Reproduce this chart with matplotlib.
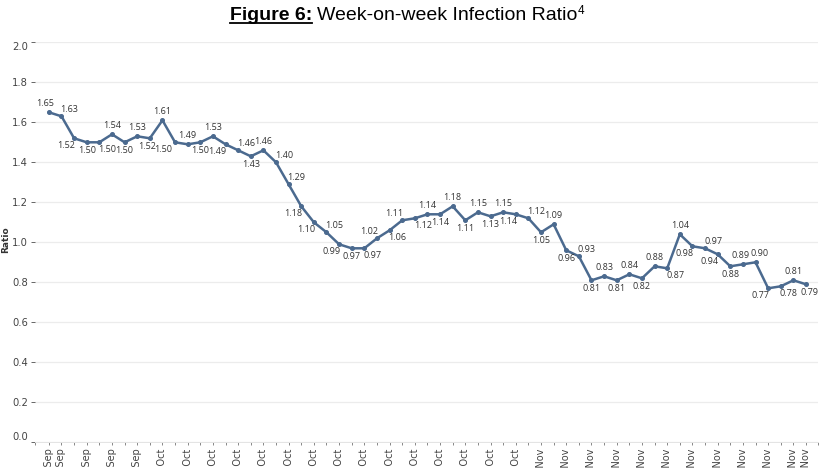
import pandas as pd
import matplotlib
matplotlib.use("Agg")
import matplotlib.pyplot as plt
from matplotlib.lines import Line2D

# week-on-week infection ratio, one value per day
START_DATE = "2020-09-23"
ratio = [1.65, 1.63, 1.52, 1.50, 1.50, 1.54, 1.50, 1.53, 1.52, 1.61,
         1.50, 1.49, 1.50, 1.53, 1.49, 1.46, 1.43, 1.46, 1.40, 1.29,
         1.18, 1.10, 1.05, 0.99, 0.97, 0.97, 1.02, 1.06, 1.11, 1.12,
         1.14, 1.14, 1.18, 1.11, 1.15, 1.13, 1.15, 1.14, 1.12, 1.05,
         1.09, 0.96, 0.93, 0.81, 0.83, 0.81, 0.84, 0.82, 0.88, 0.87,
         1.04, 0.98, 0.97, 0.94, 0.88, 0.89, 0.90, 0.77, 0.78, 0.81,
         0.79]
y_ticks = [0.0, 0.2, 0.4, 0.6, 0.8, 1.0, 1.2, 1.4, 1.6, 1.8, 2.0]

# where each data label sits relative to its point
label_pos = ["a", "ar", "bl", "b", "br", "a", "b", "a", "b", "a",
             "bl", "a", "b", "a", "bl", "ar", "b", "a", "ar", "ar",
             "bl", "bl", "ar", "bl", "b", "br", "al", "br", "al", "br",
             "a", "b", "a", "b", "a", "b", "a", "bl", "ar", "b",
             "a", "b", "ar", "b", "a", "b", "a", "b", "a", "br",
             "a", "bl", "ar", "bl", "b", "a", "a", "bl", "br", "a",
             "b"]
OFFSETS = {"a": (0, 9), "b": (0, -8), "ar": (8, 7), "al": (-8, 7),
           "br": (8, -7), "bl": (-8, -7)}
# small extra nudges so neighbouring labels don't collide
NUDGE = {0: -4, 8: -3, 10: -4, 55: -2, 56: 4, 60: 3}

LINE_COLOR = "#4b6a8f"

dates = pd.date_range(START_DATE, periods=len(ratio), freq="D")
x = list(range(len(ratio)))
labelled = [0] + list(range(1, len(ratio), 2)) + [len(ratio) - 1]

fig = plt.figure(figsize=(8.3, 4.68), dpi=100)
W, H = 830, 468
ax = fig.add_axes([35 / W, 1 - 442.3 / H, 783 / W, 400 / H])

ax.plot(x, ratio, color=LINE_COLOR, lw=1.8, marker="o", markersize=2.6,
        solid_joinstyle="round", zorder=3)

for i, (v, p) in enumerate(zip(ratio, label_pos)):
    dx, dy = OFFSETS[p]
    dx += NUDGE.get(i, 0)
    ax.annotate(f"{v:.2f}", (i, v), xytext=(dx, dy), textcoords="offset pixels",
                ha="center", va="center", fontsize=6.5, family="Open Sans",
                color="#333333", zorder=4)

ax.set_xlim(-1.1, 60.95)
ax.set_ylim(0, 2.0)
ax.set_yticks(y_ticks)
ax.set_yticklabels([f"{t:.1f}" for t in y_ticks])
ax.grid(axis="y", color="#ececec", lw=0.9)
ax.set_axisbelow(True)

ax.set_xticks(x)
ax.set_xticklabels([d.strftime("%d %b") if i in labelled else ""
                    for i, d in enumerate(dates)], rotation=90)
ax.set_xticks([-1.1, 60.95], minor=True)
ax.tick_params(axis="x", which="both", length=2.5, width=0.7, color="#888888",
               pad=2, labelsize=7, labelcolor="#444444")
ax.tick_params(axis="y", length=3, width=0.7, color="#666666", pad=2,
               labelsize=7.2, labelcolor="#444444")

ylabels = ax.get_yticklabels()
ylabels[0].set_va("bottom")
ylabels[-1].set_va("top")

for s in ["top", "right", "left"]:
    ax.spines[s].set_visible(False)
ax.spines["bottom"].set_color("#e4e4e4")
ax.spines["bottom"].set_linewidth(0.7)

fig.text(6 / W, 1 - 240 / H, "Ratio", rotation=90, ha="center", va="center",
         fontsize=6.5, fontweight="bold", color="#333333")

# title: bold underlined prefix, normal text, superscript
renderer = fig.canvas.get_renderer()
base_y = 1 - 20 / H
t1 = fig.text(0, base_y, "Figure 6:", family="Liberation Sans", fontweight="bold",
              fontsize=14, va="baseline")
t2 = fig.text(0, base_y, "Week-on-week Infection Ratio", family="Liberation Sans",
              fontsize=14, va="baseline")
t3 = fig.text(0, base_y + 6 / H, "4", family="Liberation Sans", fontsize=8.5,
              va="baseline")
w1 = t1.get_window_extent(renderer).width
w2 = t2.get_window_extent(renderer).width
w3 = t3.get_window_extent(renderer).width
gap = 5.5
total = w1 + gap + w2 + w3
x0 = 407 - total / 2
t1.set_x(x0 / W)
t2.set_x((x0 + w1 + gap) / W)
t3.set_x((x0 + w1 + gap + w2) / W)
uy = base_y - 3 / H
fig.add_artist(Line2D([x0 / W, (x0 + w1) / W], [uy, uy], transform=fig.transFigure,
                      color="black", lw=1.3))

fig.savefig("out.png", dpi=100)
